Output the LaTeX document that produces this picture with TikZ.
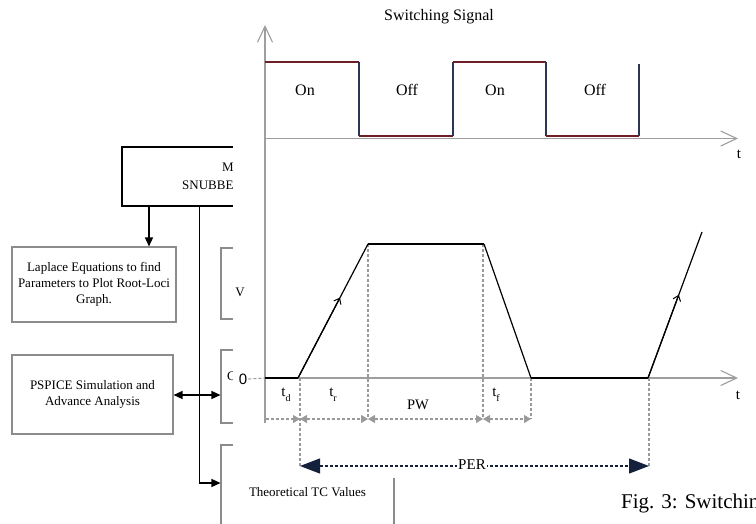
\documentclass[tikz,border=0pt]{standalone}
\usepackage{fontspec}
\setmainfont{Liberation Serif}
\setsansfont{Liberation Sans}
\usetikzlibrary{arrows.meta,calc}
\definecolor{boxgray}{HTML}{8C8C8C}
\definecolor{axisgray}{HTML}{9E9E9E}
\definecolor{dimgray}{HTML}{9A9A9A}
\definecolor{sigred}{HTML}{6E1E24}
\definecolor{signavy}{HTML}{2B3652}
\definecolor{pernavy}{HTML}{14213D}
\begin{document}
\begin{tikzpicture}[x=1pt,y=-1pt,
  flowtxt/.style={font=\fontsize{13}{16}\selectfont},
  flowbox/.style={draw=boxgray,line width=1.1pt,align=center,inner sep=0pt,flowtxt},
  conn/.style={draw=black,line width=1.3pt},
  fhead/.style={-{Triangle[length=9pt,width=8pt]}},
  axisline/.style={draw=axisgray,line width=1.2pt},
  axhead/.style={-{Straight Barb[length=16pt,width=15pt,line width=1.1pt]}},
  sigH/.style={draw=sigred,line width=1.6pt},
  sigV/.style={draw=signavy,line width=1.6pt},
  wave/.style={draw=black,line width=1.2pt},
  waveflat/.style={draw=black,line width=2.2pt},
  dimline/.style={draw=dimgray,line width=1.1pt,dash pattern=on 3pt off 2pt},
  lbl/.style={font=\fontsize{15}{15}\selectfont,inner sep=1pt}]
\useasboundingbox (0,0) rectangle (756,523);
\fill[white] (0,0) rectangle (756,523);

% ---------------- flowchart (background layer) ----------------
\node[draw=black,line width=1.2pt,minimum width=440pt,minimum height=59pt,inner sep=0pt] (topbox) at (342,176.5) {};
\node[flowtxt,anchor=base west,inner sep=0pt] (topl1) at (222,171.5) {M};
\node[flowtxt,anchor=base west,inner sep=0pt] (topl2) at (182,189.5) {SNUBBE};

\node[flowbox,minimum width=164pt,minimum height=75pt] (lap) at (94,284.5)
  {Laplace Equations to find\\Parameters to Plot Root-Loci\\Graph.};
\node[flowbox,minimum width=161pt,minimum height=79pt] (psp) at (92.5,394.5)
  {PSPICE Simulation and\\Advance Analysis};

\node[flowbox,minimum width=173pt,minimum height=71pt] (vbox) at (307.5,283.5) {};
\node[flowbox,minimum width=173pt,minimum height=73pt] (cbox) at (307.5,386.5) {};
\node[flowbox,minimum width=173pt,minimum height=94pt] (theo) at (307.5,492) {Theoretical TC Values};
\node[flowtxt,anchor=west,inner sep=0pt] (ctxt) at (227,376) {C};

\coordinate (ta) at (149,206);
\coordinate (tb) at (199.5,206);
\coordinate (tc) at (199.5,483);
\coordinate (jp) at (199.5,395);
\draw[conn,fhead] (ta) -- (ta |- lap.north);
\draw[conn,fhead] (tb) -- (tc) -- (tc -| theo.west);
\draw[conn,{Triangle[length=9pt,width=8pt]}-{Triangle[length=9pt,width=8pt]}] (psp.east |- jp) -- (jp -| cbox.west);

% ---------------- cover of the timing figure ----------------
\fill[white] (233,-1) rectangle (757,478);
\node[flowtxt,inner sep=0pt] (vtxt) at (240,292) {V};

% ---------------- timing diagram ----------------
\node[lbl,font=\fontsize{16}{16}\selectfont] (title) at (439,17) {Switching Signal};

\coordinate (ytop) at (265,25);
\coordinate (ybot) at (265,423);
\coordinate (u0) at (265,138.5);
\coordinate (uend) at (738,138.5);
\coordinate (l0) at (265,378);
\coordinate (lend) at (738,378);
\draw[axisline,axhead] (ybot) -- (ytop);
\draw[axisline,axhead] (u0) -- (uend);
\draw[axisline,axhead] (l0) -- (lend);
\node[lbl] (tu) at (739,154) {t};
\node[lbl] (tl) at (738,395) {t};

% upper switching signal
\draw[sigH] (265,62) -- (359,62);
\draw[sigV] (359,62) -- (359,136);
\draw[sigH] (359,136) -- (453,136);
\draw[sigV] (453,136) -- (453,62);
\draw[sigH] (453,62) -- (546,62);
\draw[sigV] (546,62) -- (546,136);
\draw[sigH] (546,136) -- (639,136);
\draw[sigV] (639,136) -- (639,64);
\node[lbl,font=\fontsize{16}{16}\selectfont] (on1) at (305,90) {On};
\node[lbl,font=\fontsize{16}{16}\selectfont] (off1) at (407,90) {Off};
\node[lbl,font=\fontsize{16}{16}\selectfont] (on2) at (495,90) {On};
\node[lbl,font=\fontsize{16}{16}\selectfont] (off2) at (595,90) {Off};

% dashed guides
\draw[dimline] (300,378) -- (300,468);
\draw[dimline] (368,244) -- (368,419);
\draw[dimline] (483,244) -- (483,419);
\draw[dimline] (531,378) -- (531,419);
\draw[dimline] (649,378) -- (649,468);

% waveform
\coordinate (w0) at (265,378);
\coordinate (w1) at (298,378);
\coordinate (w2) at (368,244);
\coordinate (w3) at (484,244);
\coordinate (w4) at (531,378);
\coordinate (w5) at (648,378);
\coordinate (w6) at (702,232);
\draw[waveflat] (w0) -- (w1);
\draw[wave] (w1) -- (w2);
\draw[waveflat] (w2) -- (w3);
\draw[wave] (w3) -- (w4);
\draw[waveflat] (w4) -- (w5);
\draw[wave] (w5) -- (w6);
\draw[wave,-{Straight Barb[length=5pt,width=8pt,line width=1pt]}] (w1) -- ($(w1)!0.6!(w2)$);
\draw[wave,-{Straight Barb[length=5pt,width=8pt,line width=1pt]}] (w5) -- ($(w5)!0.57!(w6)$);

% zero label
\node[font=\sffamily\fontsize{15}{15}\selectfont,fill=white,inner sep=1pt] (zero) at (243,379) {0};
\draw[dimline] (zero.east) -- (l0);

% dimension arrows
\coordinate (d0) at (266,419);
\coordinate (d1) at (300,419);
\coordinate (d2) at (368,419);
\coordinate (d3) at (483,419);
\coordinate (d4) at (531,419);
\draw[dimline,-{Triangle[length=7pt,width=8pt,fill=dimgray]}] (d0) -- (d1);
\draw[dimline,{Triangle[length=7pt,width=8pt,fill=dimgray]}-{Triangle[length=7pt,width=8pt,fill=dimgray]}] (d1) -- (d2);
\draw[dimline,{Triangle[length=7pt,width=8pt,fill=dimgray]}-{Triangle[length=7pt,width=8pt,fill=dimgray]}] (d2) -- (d3);
\draw[dimline,{Triangle[length=7pt,width=8pt,fill=dimgray]}-{Triangle[length=7pt,width=8pt,fill=dimgray]}] (d3) -- (d4);

\node[lbl] (td) at (286,395) {t\raisebox{-5pt}{\fontsize{10}{10}\selectfont d}};
\node[lbl] (tr) at (333,395) {t\raisebox{-5pt}{\fontsize{10}{10}\selectfont r}};
\node[lbl,font=\fontsize{14.5}{15}\selectfont] (pw) at (418,405) {PW};
\node[lbl] (tf) at (496,395) {t\raisebox{-5pt}{\fontsize{10}{10}\selectfont f}};

% period arrow
\coordinate (p0) at (300,466);
\coordinate (p1) at (649,466);
\draw[draw=pernavy,line width=1.2pt,dash pattern=on 3pt off 2pt,
  {Triangle[length=20pt,width=15pt,fill=pernavy]}-{Triangle[length=20pt,width=15pt,fill=pernavy]}] (p0) -- (p1);
\node[lbl,fill=white,font=\fontsize{15}{15}\selectfont] (per) at (472,465) {PER};

% caption
\node[anchor=base west,inner sep=0pt,font=\fontsize{21}{21}\selectfont] (cap) at (621,508) {Fig. 3: Switchin};
\end{tikzpicture}
\end{document}
